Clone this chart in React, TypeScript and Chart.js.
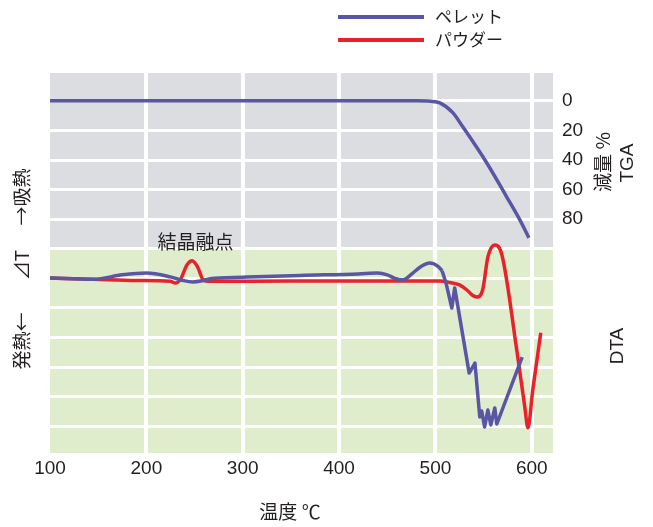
import React, { useEffect, useRef } from "react";
import { Chart, registerables } from "chart.js";

Chart.register(...registerables);

// ---- data ----
const SERIES_PELLET = "ペレット";
const SERIES_POWDER = "パウダー";

const TEMP_TICKS = [100, 200, 300, 400, 500, 600];
const TGA_TICKS = [0, 20, 40, 60, 80];
const GRID_ROWS = [1, 2, 3, 4, 5, 6, 7, 8, 9, 10, 11, 12];

// TGA (pellet): temperature °C, weight loss %
const pelletTgaTemp = [100, 300, 480, 495, 504.6, 518, 528.4, 553.3, 574, 587.6, 597];
const pelletTgaLoss = [0, 0, 0, 0.3, 1.4, 8, 17.6, 42, 65, 80.5, 92.6];

// DTA (pellet), smooth part: temperature °C, ΔT (grid units)
const pelletDtaTemp = [100, 145, 175, 200, 225, 238, 248, 258, 266, 300, 360, 420, 440, 450, 458, 466, 476.5, 484, 494, 503, 507];
const pelletDtaVal = [6.01, 5.97, 6.12, 6.18, 6.05, 5.93, 5.88, 5.92, 5.99, 6.04, 6.1, 6.15, 6.18, 6.12, 6.0, 5.95, 6.18, 6.38, 6.52, 6.4, 6.25];

// DTA (pellet), jagged decomposition part
const pelletDecompTemp = [507, 511, 517, 520, 535, 541, 546, 548, 551, 554.4, 557.5, 561.6, 563.7, 590];
const pelletDecompVal = [6.25, 5.84, 5.0, 5.68, 2.8, 3.14, 1.32, 1.52, 0.98, 1.55, 1.05, 1.62, 1.08, 3.34];

// DTA (powder)
const powderDtaTemp = [100, 145, 190, 225, 230, 236, 242, 247.5, 253, 259, 265, 350, 460, 505, 515, 525, 533, 538, 543, 549, 554.4, 561.6, 569, 584.4, 592.7, 596, 601, 609.3];
const powderDtaVal = [6.01, 5.97, 5.93, 5.9, 5.84, 6.0, 6.45, 6.6, 6.4, 5.95, 5.9, 5.91, 5.91, 5.91, 5.86, 5.78, 5.6, 5.44, 5.37, 5.61, 6.72, 7.13, 6.79, 3.58, 1.66, 0.95, 2.23, 4.16];

const ANNOTATION_TEXT = "結晶融点";
const ANNOTATION_TEMP = 251;
const ANNOTATION_Y = 7.23;

const BLUE = "#5a56a6";
const RED = "#e8212b";
const GRAY = "#dcdde0";
const GREEN = "#dfedcc";
const TEXT = "#231f20";
const CJK = '"Noto Sans CJK JP", "Noto Sans", sans-serif';
const LATIN = '"Liberation Sans", Arial, sans-serif';

const zip = (xs: number[], ys: number[]) => xs.map((x, i) => ({ x, y: ys[i] }));

const decorPlugin = {
  id: "decor",
  beforeDraw(chart: any) {
    const { ctx, chartArea: a, scales } = chart;
    const mid = scales.y.getPixelForValue(7);
    ctx.save();
    ctx.fillStyle = "#ffffff";
    ctx.fillRect(0, 0, chart.width, chart.height);
    ctx.fillStyle = GRAY;
    ctx.fillRect(a.left, a.top, a.right - a.left, mid - a.top);
    ctx.fillStyle = GREEN;
    ctx.fillRect(a.left, mid, a.right - a.left, a.bottom - mid);
    ctx.restore();
  },
  afterDraw(chart: any) {
    const { ctx, scales } = chart;
    ctx.save();
    // legend
    const legend = [
      { label: SERIES_PELLET, color: BLUE, y: 17 },
      { label: SERIES_POWDER, color: RED, y: 40 },
    ];
    legend.forEach((l) => {
      ctx.strokeStyle = l.color;
      ctx.lineWidth = 4;
      ctx.beginPath();
      ctx.moveTo(338, l.y);
      ctx.lineTo(424, l.y);
      ctx.stroke();
      ctx.fillStyle = TEXT;
      ctx.font = `17px ${CJK}`;
      ctx.textAlign = "left";
      ctx.textBaseline = "middle";
      ctx.fillText(l.label, 435, l.y);
    });
    // annotation
    ctx.font = `19px ${CJK}`;
    ctx.textAlign = "center";
    ctx.textBaseline = "middle";
    ctx.fillStyle = TEXT;
    ctx.fillText(ANNOTATION_TEXT, scales.x.getPixelForValue(ANNOTATION_TEMP), scales.y.getPixelForValue(ANNOTATION_Y));
    // x title
    ctx.fillText("温度 ℃", 290, 512);
    // rotated texts
    const rot = (text: string, x: number, y: number, font: string) => {
      ctx.save();
      ctx.translate(x, y);
      ctx.rotate(-Math.PI / 2);
      ctx.font = font;
      ctx.textAlign = "center";
      ctx.textBaseline = "middle";
      ctx.fillText(text, 0, 0);
      ctx.restore();
    };
    rot("→吸熱", 22, 197, `19px ${CJK}`);
    rot("⊿T", 22, 265, `19px ${CJK}`);
    rot("発熱←", 22, 341, `19px ${CJK}`);
    rot("減量 %", 603, 162, `19px ${CJK}`);
    rot("TGA", 628, 163, `19px ${LATIN}`);
    rot("DTA", 618, 346, `19px ${LATIN}`);
    ctx.restore();
  },
};

export default function App() {
  const ref = useRef<HTMLCanvasElement | null>(null);
  useEffect(() => {
    if (!ref.current) return;
    const line = (label: string, data: any[], axis: string, color: string, smooth: boolean) => ({
      label,
      data,
      yAxisID: axis,
      borderColor: color,
      backgroundColor: color,
      borderWidth: 3.5,
      pointRadius: 0,
      borderJoinStyle: "round",
      ...(smooth ? { cubicInterpolationMode: "monotone" } : { tension: 0 }),
    });
    const chart = new Chart(ref.current, {
      type: "line",
      data: {
        datasets: [
          line(SERIES_PELLET + " TGA", zip(pelletTgaTemp, pelletTgaLoss), "yTGA", BLUE, true),
          line(SERIES_PELLET, zip(pelletDtaTemp, pelletDtaVal), "y", BLUE, true),
          line(SERIES_PELLET + " ", zip(pelletDecompTemp, pelletDecompVal), "y", BLUE, false),
          line(SERIES_POWDER, zip(powderDtaTemp, powderDtaVal), "y", RED, true),
        ],
      },
      options: {
        responsive: false,
        animation: false,
        layout: { padding: { top: 73, left: 50, right: 0, bottom: 0 } },
        plugins: { legend: { display: false }, title: { display: false }, tooltip: { enabled: false } },
        scales: {
          x: {
            type: "linear",
            min: 100,
            max: 622,
            border: { display: false },
            afterBuildTicks: (axis: any) => {
              axis.ticks = TEMP_TICKS.map((v) => ({ value: v }));
            },
            afterFit: (axis: any) => {
              axis.height = 74;
            },
            grid: {
              color: (c: any) => (c.tick && c.tick.value === 100 ? "rgba(0,0,0,0)" : "#ffffff"),
              lineWidth: 4,
              drawTicks: false,
            },
            ticks: {
              color: TEXT,
              font: { family: LATIN, size: 19 },
              padding: 4,
              maxRotation: 0,
              autoSkip: false,
            },
          },
          y: {
            type: "linear",
            position: "left",
            min: 0.1,
            max: 12.94,
            border: { display: false },
            afterBuildTicks: (axis: any) => {
              axis.ticks = GRID_ROWS.map((v) => ({ value: v }));
            },
            afterFit: (axis: any) => {
              axis.width = 0;
            },
            grid: { color: "#ffffff", lineWidth: 3, drawTicks: false },
            ticks: { display: false },
          },
          yTGA: {
            type: "linear",
            position: "right",
            reverse: true,
            min: -18.8,
            max: 238,
            border: { display: false },
            afterBuildTicks: (axis: any) => {
              axis.ticks = TGA_TICKS.map((v) => ({ value: v }));
            },
            afterFit: (axis: any) => {
              axis.width = 100;
            },
            grid: { display: false, drawTicks: false },
            ticks: {
              color: TEXT,
              font: { family: LATIN, size: 19 },
              padding: 9,
              autoSkip: false,
            },
          },
        },
      } as any,
      plugins: [decorPlugin],
    });
    return () => chart.destroy();
  }, []);
  return (
    <div style={{ position: "fixed", left: 0, top: 0, width: 653, height: 527, background: "#fff" }}>
      <canvas ref={ref} width={653} height={527} style={{ display: "block" }} />
    </div>
  );
}
